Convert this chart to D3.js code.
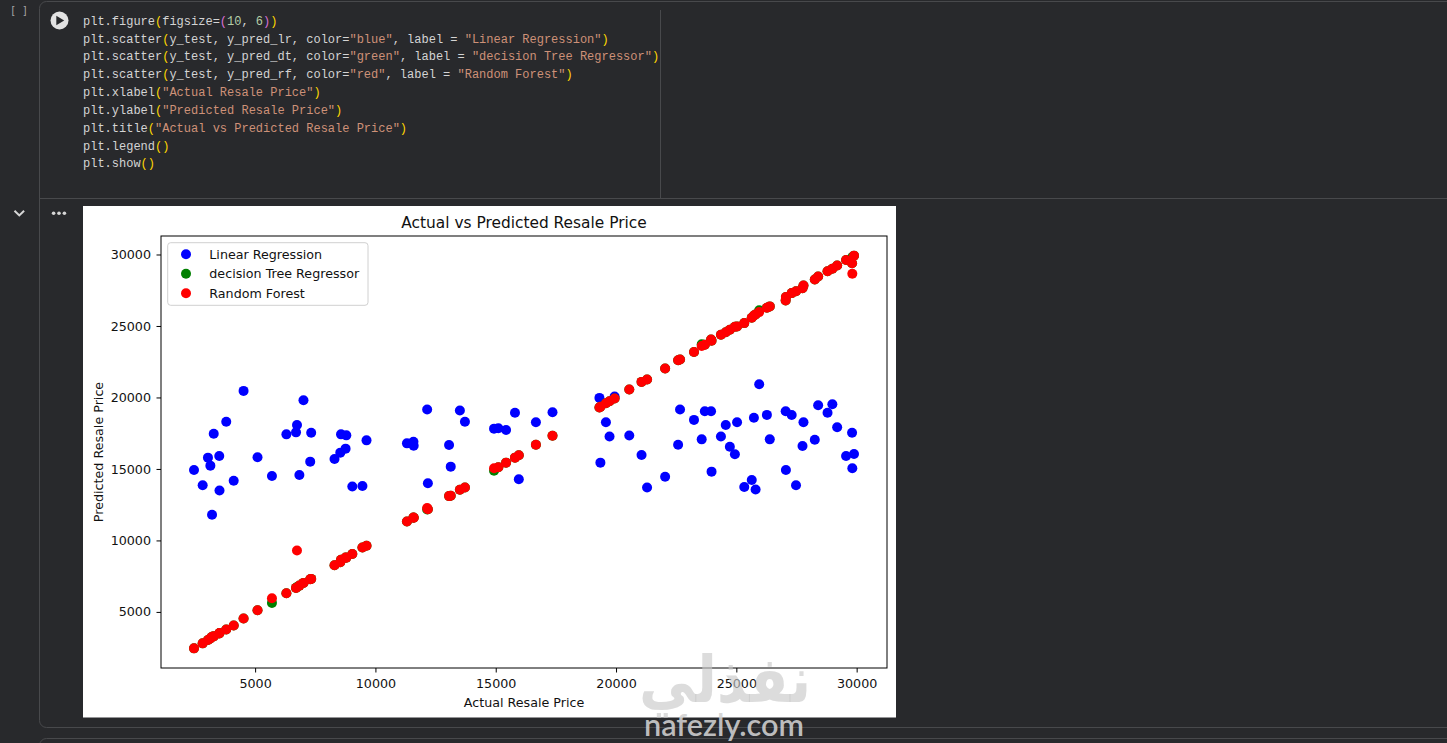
<!DOCTYPE html>
<html lang="en">
<head>
<meta charset="utf-8">
<title>Actual vs Predicted Resale Price</title>
<style>
  html, body { margin: 0; padding: 0; background: #28292c; overflow: hidden; }
  text.code { font-family: "Liberation Mono", "DejaVu Sans Mono", monospace; font-size: 12px; white-space: pre; fill: #d4d4d4; }
  text.mpl, .tick text { font-family: "DejaVu Sans", sans-serif; fill: #111; }
</style>
</head>
<body>
<script src="https://cdnjs.cloudflare.com/ajax/libs/d3/7.8.5/d3.min.js"></script>
<script>

// y_test (actual resale price), shared by the three scatter series
const actualPrice = [
  2460, 2820, 3040, 3140, 3210, 3280, 3510, 3520, 3800, 4110,
  4520, 5100, 5700, 6300, 6700, 6740, 6840, 7010, 7290, 7330,
  8300, 8540, 8570, 8760, 8790, 9040, 9460, 9630, 11310, 11580,
  11590, 12150, 12180, 13060, 13130, 13510, 13720, 14930, 15110, 15430,
  15800, 15960, 16670, 17360, 19310, 19940, 19350, 19580, 19730, 20550,
  21060, 21290, 22040, 22580, 22660, 23240, 23560, 23690, 23950, 23970,
  24360, 24560, 24730, 24940, 25030, 25330, 25640, 25730, 25800, 25950,
  26270, 26390, 27050, 27060, 27300, 27480, 27750, 27790, 28260, 28400,
  28790, 28990, 29190, 29560, 29810, 29820, 29890
];

// y_pred_lr
const predLinear = [
  14930, 13860, 15790, 15230, 11790, 17460, 15910, 13490, 18300, 14180,
  20460, 15820, 14510, 17420, 17560, 18070, 14580, 19810, 15510, 17530,
  15700, 16140, 17420, 16420, 17350, 13770, 13810, 17000, 16790, 16900,
  16620, 19160, 14000, 16670, 15160, 19090, 18300, 17820, 17840, 17720,
  18930, 14280, 18260, 18960, 19970, 20060, 15440, 18260, 17270, 17340,
  15980, 13700, 14460, 16690, 19160, 18430, 17070, 19040, 19040, 14810,
  17270, 18070, 16550, 16030, 18260, 13740, 14230, 18580, 13560, 20930,
  18780, 17070, 19040, 14930, 18770, 13860, 16600, 18260, 17040, 19450,
  18930, 19520, 17920, 15910, 17530, 15050, 16050
];

// y_pred_dt
const predTree = [
  2450, 2800, 3030, 3140, 3260, 3290, 3490, 3520, 3770, 4050,
  4540, 5120, 5630, 6300, 6680, 6740, 6840, 7030, 7280, 7310,
  8260, 8470, 8650, 8810, 8790, 9050, 9510, 9630, 11320, 11600,
  11590, 12170, 12180, 13100, 13130, 13540, 13700, 14880, 15120, 15440,
  15790, 15960, 16690, 17320, 19300, 19930, 19350, 19600, 19740, 20560,
  21090, 21260, 22020, 22600, 22660, 23180, 23720, 23690, 24050, 23970,
  24390, 24560, 24730, 24940, 24970, 25200, 25580, 25730, 25800, 26100,
  26270, 26370, 26790, 27020, 27300, 27430, 27640, 27830, 28250, 28460,
  28830, 29000, 29230, 29620, 29390, 29820, 29920
];

// y_pred_rf
const predForest = [
  2450, 2800, 3030, 3140, 3260, 3290, 3490, 3520, 3770, 4050,
  4540, 5120, 5950, 6300, 6680, 9300, 6840, 7030, 7280, 7310,
  8260, 8470, 8650, 8810, 8790, 9050, 9510, 9630, 11320, 11600,
  11590, 12260, 12180, 13100, 13130, 13540, 13700, 15050, 15120, 15440,
  15790, 15960, 16690, 17320, 19300, 19930, 19350, 19600, 19740, 20560,
  21090, 21260, 22020, 22600, 22660, 23180, 23600, 23690, 24050, 23970,
  24390, 24560, 24730, 24940, 24970, 25200, 25580, 25730, 25800, 25970,
  26270, 26370, 26790, 27020, 27300, 27430, 27640, 27830, 28250, 28460,
  28830, 29000, 29230, 29620, 29390, 28650, 29920
];

const seriesNames = ["Linear Regression", "decision Tree Regressor", "Random Forest"];
const seriesColors = ["blue", "green", "red"];
const xTicks = [5000, 10000, 15000, 20000, 25000, 30000];
const yTicks = [5000, 10000, 15000, 20000, 25000, 30000];

// notebook cell source, split in coloured pieces
const codeLines = [
  [["plt.figure", "t"], ["(", "p1"], ["figsize=", "t"], ["(", "p2"], ["10", "n"], [", ", "t"], ["6", "n"], [")", "p2"], [")", "p1"]],
  [["plt.scatter", "t"], ["(", "p1"], ["y_test, y_pred_lr, color=", "t"], ["\"blue\"", "s"], [", label = ", "t"], ["\"Linear Regression\"", "s"], [")", "p1"]],
  [["plt.scatter", "t"], ["(", "p1"], ["y_test, y_pred_dt, color=", "t"], ["\"green\"", "s"], [", label = ", "t"], ["\"decision Tree Regressor\"", "s"], [")", "p1"]],
  [["plt.scatter", "t"], ["(", "p1"], ["y_test, y_pred_rf, color=", "t"], ["\"red\"", "s"], [", label = ", "t"], ["\"Random Forest\"", "s"], [")", "p1"]],
  [["plt.xlabel", "t"], ["(", "p1"], ["\"Actual Resale Price\"", "s"], [")", "p1"]],
  [["plt.ylabel", "t"], ["(", "p1"], ["\"Predicted Resale Price\"", "s"], [")", "p1"]],
  [["plt.title", "t"], ["(", "p1"], ["\"Actual vs Predicted Resale Price\"", "s"], [")", "p1"]],
  [["plt.legend", "t"], ["()", "p1"]],
  [["plt.show", "t"], ["()", "p1"]]
];
const codeColors = { t: "#d4d4d4", p1: "#ffd700", p2: "#da70d6", n: "#b5cea8", s: "#ce9178" };

const width = 1447, height = 743;
const svg = d3.select("body").append("svg")
              .attr("width", width)
              .attr("height", height);

// ---- notebook chrome ----
const line = "#48494c";
svg.append("rect").attr("x", 39.5).attr("y", 1.5).attr("width", 1450).attr("height", 726)
   .attr("rx", 7).attr("fill", "none").attr("stroke", line);
svg.append("rect").attr("x", 39.5).attr("y", 738.5).attr("width", 1450).attr("height", 60)
   .attr("rx", 7).attr("fill", "none").attr("stroke", line);
svg.append("line").attr("x1", 40).attr("x2", width).attr("y1", 198.5).attr("y2", 198.5).attr("stroke", line);
svg.append("line").attr("x1", 660.5).attr("x2", 660.5).attr("y1", 10).attr("y2", 198).attr("stroke", line);

svg.append("text").attr("x", 19).attr("y", 13.5).attr("text-anchor", "middle")
   .style("font", "10px 'DejaVu Sans Mono', monospace").attr("fill", "#a6a6a6").text("[ ]");

// run button
svg.append("circle").attr("cx", 59.5).attr("cy", 20.5).attr("r", 9).attr("fill", "#e2e2e2");
svg.append("path").attr("d", "M56.3,15.8 L64.2,20.5 L56.3,25.2 Z").attr("fill", "#28292c");

// output collapse chevron and menu dots
svg.append("path").attr("d", "M14.5,210.8 L19.3,215.4 L24.1,210.8")
   .attr("fill", "none").attr("stroke", "#d6d6d6").attr("stroke-width", 2);
svg.selectAll("circle.dot").data([53.6, 59, 64.4]).enter().append("circle")
   .attr("class", "dot").attr("cx", d => d).attr("cy", 213.3).attr("r", 1.8).attr("fill", "#d6d6d6");

// code text
codeLines.forEach(function(parts, i) {
  const t = svg.append("text").attr("class", "code").attr("x", 83).attr("y", 24.7 + i * 17.84);
  parts.forEach(function(p) {
    t.append("tspan").attr("fill", codeColors[p[1]]).text(p[0]);
  });
});

// ---- matplotlib output ----
svg.append("rect").attr("x", 83).attr("y", 206).attr("width", 813).attr("height", 511.5).attr("fill", "#fff");

const axLeft = 161, axRight = 887, axTop = 236, axBottom = 668;

// matplotlib style 5% margins
function padded(vals) {
  const lo = d3.min(vals), hi = d3.max(vals), m = (hi - lo) * 0.05;
  return [lo - m, hi + m];
}

const xScale = d3.scaleLinear()
                 .domain(padded(actualPrice))
                 .range([axLeft, axRight]);

const yScale = d3.scaleLinear()
                 .domain(padded(predLinear.concat(predTree, predForest)))
                 .range([axBottom, axTop]);

const series = [predLinear, predTree, predForest].map(function(vals, k) {
  return { name: seriesNames[k], color: seriesColors[k], values: vals };
});

// scatter points, drawn in plot order
series.forEach(function(s) {
  svg.append("g").selectAll("circle")
     .data(s.values)
     .enter()
     .append("circle")
     .attr("cx", (d, i) => xScale(actualPrice[i]))
     .attr("cy", d => yScale(d))
     .attr("r", 5)
     .attr("fill", s.color);
});

// axes
const xAxis = d3.axisBottom(xScale).tickValues(xTicks).tickFormat(d3.format("d"))
                .tickSize(4.5).tickPadding(6).tickSizeOuter(0);
const yAxis = d3.axisLeft(yScale).tickValues(yTicks).tickFormat(d3.format("d"))
                .tickSize(4.5).tickPadding(5.5).tickSizeOuter(0);

const gx = svg.append("g").attr("transform", "translate(0," + axBottom + ")").call(xAxis);
const gy = svg.append("g").attr("transform", "translate(" + axLeft + ",0)").call(yAxis);
[gx, gy].forEach(function(g) {
  g.select(".domain").remove();
  g.selectAll(".tick line").attr("stroke", "#000").attr("stroke-width", 1);
  g.selectAll(".tick text").style("font-size", "12.7px").style("font-family", "'DejaVu Sans', sans-serif").attr("fill", "#111");
});

// spines
svg.append("rect").attr("x", axLeft).attr("y", axTop)
   .attr("width", axRight - axLeft).attr("height", axBottom - axTop)
   .attr("fill", "none").attr("stroke", "#000").attr("stroke-width", 1);

// title and axis titles
svg.append("text").attr("class", "mpl").attr("x", (axLeft + axRight) / 2).attr("y", 228)
   .attr("text-anchor", "middle").style("font-size", "15.4px").text("Actual vs Predicted Resale Price");
svg.append("text").attr("class", "mpl").attr("x", (axLeft + axRight) / 2).attr("y", 706.5)
   .attr("text-anchor", "middle").style("font-size", "12.7px").text("Actual Resale Price");
svg.append("text").attr("class", "mpl")
   .attr("transform", "translate(102.5," + (axTop + axBottom) / 2 + ") rotate(-90)")
   .attr("text-anchor", "middle").style("font-size", "12.7px").text("Predicted Resale Price");

// legend
const legend = svg.append("g").attr("transform", "translate(167.7,242.7)");
legend.append("rect").attr("width", 200.3).attr("height", 62.6).attr("rx", 3)
      .attr("fill", "#fff").attr("fill-opacity", 0.8).attr("stroke", "#d0d0d0");
const rows = legend.selectAll("g.row").data(series).enter().append("g")
                   .attr("class", "row")
                   .attr("transform", (d, i) => "translate(0," + (11.6 + i * 19.5) + ")");
rows.append("circle").attr("cx", 18.3).attr("cy", 0).attr("r", 5).attr("fill", d => d.color);
rows.append("text").attr("class", "mpl").attr("x", 41.6).attr("y", 4.5)
    .style("font-size", "12.7px").text(d => d.name);

// site watermark
svg.append("text").attr("x", 725).attr("y", 702).attr("text-anchor", "middle")
   .attr("textLength", 172).attr("lengthAdjust", "spacingAndGlyphs")
   .style("font", "bold 64px 'DejaVu Sans', sans-serif")
   .attr("fill", "rgb(199,199,199)").attr("fill-opacity", 0.63).text("نفذلي");
svg.append("text").attr("x", 724).attr("y", 736).attr("text-anchor", "middle")
   .attr("textLength", 160).attr("lengthAdjust", "spacingAndGlyphs")
   .style("font", "600 31px Lato, sans-serif")
   .attr("fill", "#d2d2d2").attr("fill-opacity", 0.88).text("nafezly.com");

</script>
</body>
</html>
